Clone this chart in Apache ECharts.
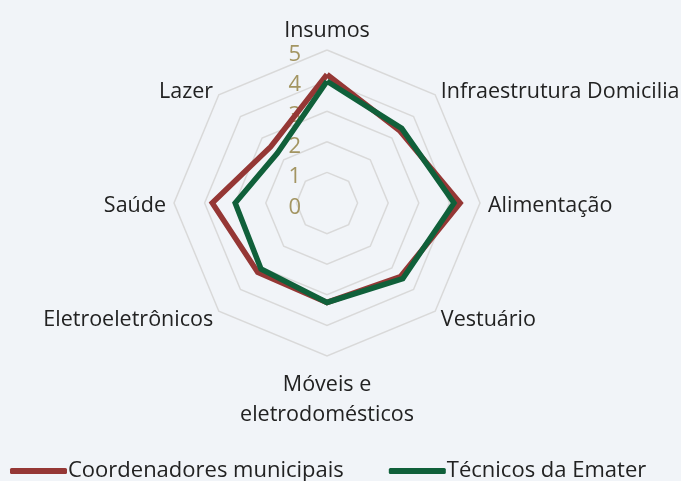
<!DOCTYPE html>
<html>
<head>
<meta charset="utf-8">
<script src="https://cdn.jsdelivr.net/npm/echarts@6/dist/echarts.min.js"></script>
<style>
  html, body { margin: 0; padding: 0; background: #f1f4f8; }
  #chart { width: 681px; height: 481px; }
</style>
</head>
<body>
<div id="chart"></div>
<script>
// Dados (sentido horário a partir do topo)
const categorias = ['Insumos', 'Infraestrutura Domiciliar', 'Alimentação', 'Vestuário',
    'Móveis e\neletrodomésticos', 'Eletroeletrônicos', 'Saúde', 'Lazer'];
const coordenadores = [4.2, 3.35, 4.35, 3.4, 3.25, 3.2, 3.75, 2.6];
const tecnicos = [3.98, 3.45, 4.15, 3.5, 3.25, 3.05, 3.0, 2.3];
const nomesSeries = ['Coordenadores municipais', 'Técnicos da Emater'];
const valorMax = 5;

const fonte = '"Open Sans", sans-serif';

// ECharts desenha os indicadores no sentido anti-horário, então reordena
const ordem = [0, 7, 6, 5, 4, 3, 2, 1];
const reordena = arr => ordem.map(i => arr[i]);

const indicadores = reordena(categorias).map((nome, i) => {
    const ind = { name: nome, min: 0, max: valorMax };
    if (i === 0) ind.axisLabel = { show: true };  // rótulos só no eixo de cima
    return ind;
});

const chart = echarts.init(document.getElementById('chart'));
chart.setOption({
    backgroundColor: '#f1f4f8',
    animation: false,
    legend: {
        data: nomesSeries,
        left: 10,
        top: 460,
        padding: 0,
        icon: 'roundRect',
        itemWidth: 57,
        itemHeight: 6,
        itemGap: 45,
        textStyle: { fontFamily: fonte, fontSize: 22, color: '#222', padding: [0, 0, 0, -4] }
    },
    radar: {
        center: [327, 203],
        radius: 153,
        startAngle: 90,
        splitNumber: 5,
        shape: 'polygon',
        nameGap: 8,
        indicator: indicadores,
        axisName: {
            fontFamily: fonte,
            fontSize: 21.5,
            color: '#222',
            lineHeight: 22,
            padding: [6, 0, 0, 0],
            // nomes em duas linhas ficam mais espaçados
            formatter: nome => nome.indexOf('\n') < 0 ? nome
                : nome.split('\n').map(l => '{m|' + l + '}').join('\n'),
            rich: { m: { fontFamily: fonte, fontSize: 21.5, color: '#222', lineHeight: 30 } }
        },
        axisLine: { show: false },
        axisTick: { show: false },
        axisLabel: {
            show: false,
            fontFamily: fonte,
            fontSize: 22,
            color: '#a39562',
            margin: 26,
            formatter: v => '{v|' + v + '}',
            rich: { v: { fontFamily: fonte, fontSize: 22, color: '#a39562', padding: [9, 0, 0, 0] } }
        },
        splitLine: { lineStyle: { color: '#d9d9d9', width: 1.5 } },
        splitArea: { show: false }
    },
    series: [{
        type: 'radar',
        symbol: 'none',
        data: [
            {
                name: nomesSeries[0],
                value: reordena(coordenadores),
                itemStyle: { color: '#953735' },
                lineStyle: { color: '#953735', width: 5.5, join: 'miter' }
            },
            {
                name: nomesSeries[1],
                value: reordena(tecnicos),
                itemStyle: { color: '#10603a' },
                lineStyle: { color: '#10603a', width: 5.5, join: 'miter' }
            }
        ]
    }]
});
</script>
</body>
</html>
